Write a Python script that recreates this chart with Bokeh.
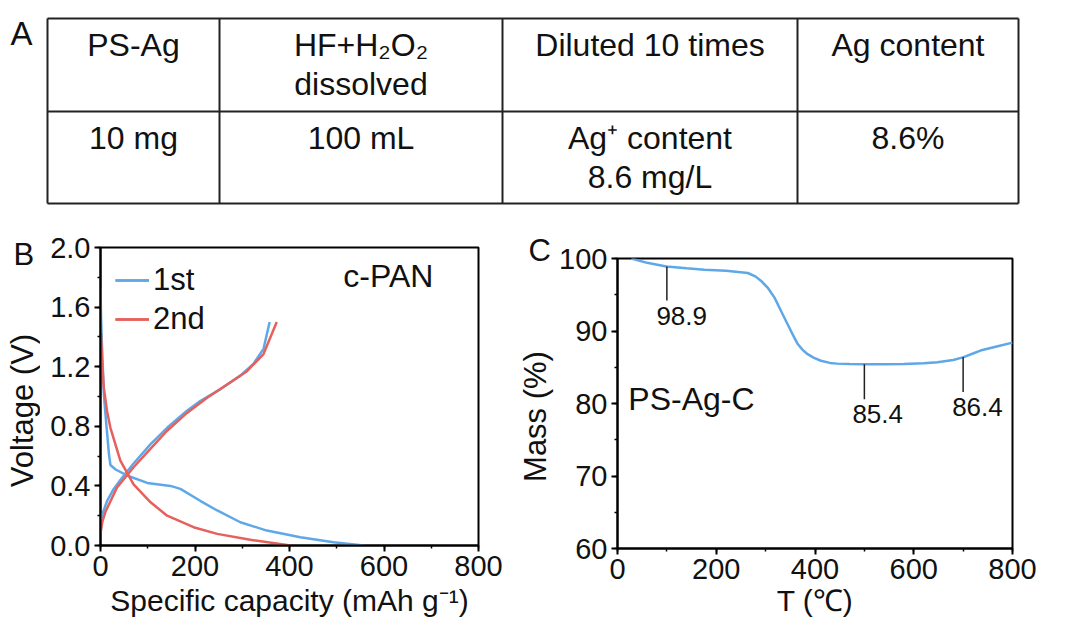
import math
from bokeh.plotting import figure
from bokeh.layouts import column, row
from bokeh.models import (Range1d, SingleIntervalTicker, Legend, LegendItem, Spacer,
                          PrintfTickFormatter)
from bokeh.core.properties import value
from bokeh.embed import file_html
from bokeh.resources import INLINE

FONT = "Liberation Sans"

# ---------------- data ----------------
# Table (panel A)
table_header = [["PS-Ag"], ["HF+H\u2082O\u2082", "dissolved"], ["Diluted 10 times"], ["Ag content"]]
table_row = [["10 mg"], ["100 mL"], ["Ag\u207a content", "8.6 mg/L"], ["8.6%"]]

# Panel B: charge/discharge curves
cap_1st_dis = [0, 1, 3, 5, 7, 10, 13, 18, 21, 32, 56, 99, 148, 169, 211, 247, 296, 352, 423, 493, 557]
v_1st_dis = [1.73, 1.55, 1.35, 1.20, 1.02, 0.90, 0.79, 0.61, 0.54, 0.51, 0.47, 0.42, 0.40, 0.38, 0.30,
             0.235, 0.156, 0.10, 0.056, 0.022, 0.0]
cap_1st_chg = [1, 5, 14, 28, 42, 70, 106, 141, 183, 211, 254, 296, 324, 345, 358]
v_1st_chg = [0.17, 0.22, 0.30, 0.38, 0.44, 0.55, 0.68, 0.79, 0.905, 0.97, 1.05, 1.14, 1.22, 1.32, 1.50]
cap_2nd_dis = [1, 3, 7, 14, 21, 42, 70, 106, 141, 197, 247, 317, 402]
v_2nd_dis = [1.43, 1.25, 1.06, 0.90, 0.79, 0.57, 0.41, 0.29, 0.20, 0.123, 0.078, 0.038, 0.0]
cap_2nd_chg = [0, 4, 11, 35, 70, 106, 141, 183, 225, 268, 310, 345, 373]
v_2nd_chg = [0.08, 0.16, 0.23, 0.39, 0.525, 0.65, 0.77, 0.89, 0.99, 1.08, 1.17, 1.285, 1.50]

# Panel C: TGA
temp = [28, 60, 99, 140, 176, 220, 264, 280, 291, 305, 318, 331, 344, 355, 365, 375, 385, 398, 412,
        430, 445, 470, 499, 540, 580, 620, 648, 680, 701, 720, 735, 770, 800]
mass = [100, 99.4, 98.9, 98.65, 98.45, 98.3, 98.0, 97.5, 96.9, 95.9, 94.6, 92.8, 91.0, 89.5, 88.2,
        87.4, 86.8, 86.3, 85.9, 85.6, 85.5, 85.45, 85.4, 85.4, 85.45, 85.55, 85.7, 86.0, 86.4, 86.9,
        87.3, 87.9, 88.4]
ann_temp = [100, 500, 700]
ann_mass = [98.9, 85.4, 86.4]
ann_text = ["98.9", "85.4", "86.4"]

BLUE = "#5fa8e8"
RED = "#e6605c"
INK = "#111111"

# ---------------- panel A : table ----------------
col_edges = [47, 219, 502, 797, 1018]
row_edges = [18, 111, 203]
tab = figure(width=1065, height=215, x_range=Range1d(0, 1065), y_range=Range1d(215, 0),
             output_backend="svg", toolbar_location=None, min_border=0)
tab.axis.visible = False
tab.grid.visible = False
tab.outline_line_color = None

hx0, hx1, hy = [], [], []
for y in row_edges:
    hx0.append(col_edges[0]); hx1.append(col_edges[-1]); hy.append(y)
tab.segment(x0=hx0, y0=hy, x1=hx1, y1=hy, line_color="#222222", line_width=2)
vx, vy0, vy1 = [], [], []
for x in col_edges:
    vx.append(x); vy0.append(row_edges[0]); vy1.append(row_edges[-1])
tab.segment(x0=vx, y0=vy0, x1=vx, y1=vy1, line_color="#222222", line_width=2)

tx, ty, tt = [], [], []
for r, cells in enumerate([table_header, table_row]):
    for c, lines in enumerate(cells):
        cx = (col_edges[c] + col_edges[c + 1]) / 2
        for k, line in enumerate(lines):
            tx.append(cx)
            ty.append(row_edges[r] + 26 + 39 * k)
            tt.append(line)
tab.text(x=tx, y=ty, text=tt, text_font=value(FONT), text_font_size="32px", text_align="center",
         text_baseline="middle", text_color=INK)
tab.text(x=[10], y=[33], text=["A"], text_font=value(FONT), text_font_size="33px",
         text_align="left", text_baseline="middle", text_color=INK)


def side_panel(width, letter, letter_x, letter_y, label, label_x, label_y):
    """narrow strip left of a plot holding the panel letter and the rotated y-axis title"""
    s = figure(width=width, height=410, x_range=Range1d(0, width), y_range=Range1d(410, 0),
               output_backend="svg", toolbar_location=None, min_border=0)
    s.axis.visible = False
    s.grid.visible = False
    s.outline_line_color = None
    s.text(x=[letter_x], y=[letter_y], text=[letter], text_font=value(FONT), text_font_size="31px",
           text_align="left", text_baseline="middle", text_color=INK)
    s.text(x=[label_x], y=[label_y], text=[label], text_font=value(FONT), text_font_size="31px",
           text_align="center", text_baseline="middle", angle=math.pi / 2, text_color=INK)
    return s


def style(p):
    p.grid.visible = False
    p.outline_line_color = "black"
    p.outline_line_width = 2
    p.outline_line_alpha = 1
    for ax in p.axis:
        ax.axis_line_width = 2
        ax.major_tick_line_width = 2
        ax.minor_tick_line_width = 1.5
        ax.major_tick_out = 6
        ax.major_tick_in = 0
        ax.minor_tick_out = 3
        ax.minor_tick_in = 0
        ax.major_label_text_font = FONT
        ax.major_label_text_font_size = "29px"
        ax.major_label_text_color = INK
        ax.axis_label_text_font = FONT
        ax.axis_label_text_font_size = "30px"
        ax.axis_label_text_font_style = "normal"
        ax.axis_label_text_color = INK
        ax.major_label_standoff = 4


# ---------------- panel B ----------------
lb = side_panel(40, "B", 13, 39, "Voltage (V)", 22, 195)
pb = figure(width=465, height=410, x_range=Range1d(0, 800), y_range=Range1d(0, 2.0),
            output_backend="svg", toolbar_location=None,
            min_border_left=60, min_border_right=27, min_border_top=32, min_border_bottom=80)
style(pb)
pb.xaxis.ticker = SingleIntervalTicker(interval=200, num_minor_ticks=2)
pb.yaxis.ticker = SingleIntervalTicker(interval=0.4, num_minor_ticks=2)
pb.yaxis.formatter = PrintfTickFormatter(format="%.1f")
pb.xaxis.axis_label = "Specific capacity (mAh g\u207b\u00b9)"
pb.xaxis.axis_label_standoff = 5

r1 = pb.line(cap_1st_dis, v_1st_dis, line_color=BLUE, line_width=2.5)
r2 = pb.line(cap_1st_chg, v_1st_chg, line_color=BLUE, line_width=2.5)
r3 = pb.line(cap_2nd_dis, v_2nd_dis, line_color=RED, line_width=2.5)
r4 = pb.line(cap_2nd_chg, v_2nd_chg, line_color=RED, line_width=2.5)

leg = Legend(items=[LegendItem(label="1st", renderers=[r1, r2]),
                    LegendItem(label="2nd", renderers=[r3, r4])],
             location="top_left", margin=15, padding=0, spacing=3, glyph_width=34, glyph_height=20,
             label_standoff=4, label_text_font=FONT, label_text_font_size="31px",
             label_text_color=INK, border_line_color=None, background_fill_alpha=0)
pb.add_layout(leg)
pb.text(x=[514], y=[1.812], text=["c-PAN"], text_font=value(FONT), text_font_size="32px",
        text_baseline="middle", text_align="left", text_color=INK)

# ---------------- panel C ----------------
lc = side_panel(51, "C", 23, 35, "Mass (%)", 30, 201)
pc = figure(width=509, height=399, x_range=Range1d(0, 800), y_range=Range1d(60, 100),
            output_backend="svg", toolbar_location=None,
            min_border_left=60, min_border_right=53, min_border_top=32, min_border_bottom=77)
style(pc)
pc.xaxis.ticker = SingleIntervalTicker(interval=200, num_minor_ticks=2)
pc.yaxis.ticker = SingleIntervalTicker(interval=10, num_minor_ticks=2)
pc.xaxis.axis_label = "T (\u2103)"
pc.xaxis.axis_label_standoff = 2

pc.line(temp, mass, line_color=BLUE, line_width=2.5)
line_len = [4.7, 4.8, 4.8]
pc.segment(x0=ann_temp, y0=ann_mass, x1=ann_temp, y1=[m - d for m, d in zip(ann_mass, line_len)],
           line_color="#222222", line_width=1.5)
lab_dx = [30, 27, 29]
lab_dy = [-6.83, -6.85, -6.88]
pc.text(x=[t + d for t, d in zip(ann_temp, lab_dx)], y=[m + d for m, d in zip(ann_mass, lab_dy)],
        text=ann_text, text_font=value(FONT), text_font_size="26px", text_align="center",
        text_baseline="middle", text_color=INK)
pc.text(x=[22], y=[80.6], text=["PS-Ag-C"], text_font=value(FONT), text_font_size="32px",
        text_align="left", text_baseline="middle", text_color=INK)

layout = column(tab, row(column(lb), column(pb), column(lc),
                         column(Spacer(width=509, height=11), pc)))
open("out.html", "w").write(file_html(layout, INLINE))
